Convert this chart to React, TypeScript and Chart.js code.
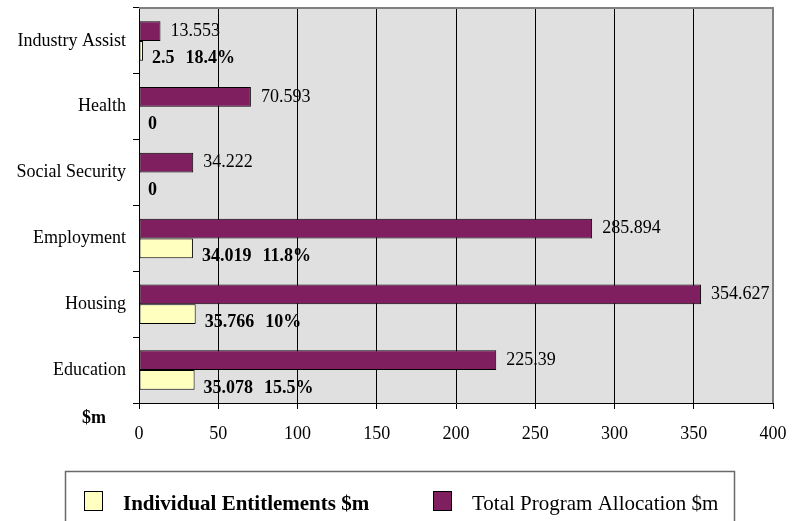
import React, { useEffect, useRef } from "react";
import { Chart, registerables } from "chart.js";

Chart.register(...registerables);

const categories = ["Industry Assist", "Health", "Social Security", "Employment", "Housing", "Education"];
const totalAllocation = [13.553, 70.593, 34.222, 285.894, 354.627, 225.39];
const individualEntitlements = [2.5, 0, 0, 34.019, 35.766, 35.078];
const entitlementShare = ["18.4%", "", "", "11.8%", "10%", "15.5%"];
const seriesNames = ["Individual Entitlements $m", "Total Program Allocation $m"];
const axisUnit = "$m";
const xMin = 0;
const xMax = 400;
const xStep = 50;

const FONT = "'Liberation Serif', 'Times New Roman', Times, serif";
const PURPLE = "#7F1F5F";
const YELLOW = "#FFFFC0";

export default function App() {
  const ref = useRef<HTMLCanvasElement>(null);

  useEffect(() => {
    const canvas = ref.current;
    if (!canvas) return;

    const decor = {
      id: "decor",
      beforeDraw(chart: any) {
        const { ctx, chartArea: a } = chart;
        ctx.save();
        ctx.fillStyle = "#E0E0E0";
        ctx.fillRect(a.left, a.top, a.right - a.left, a.bottom - a.top);
        ctx.restore();
      },
      afterDatasetsDraw(chart: any) {
        const { ctx } = chart;
        ctx.save();
        ctx.fillStyle = "#000";
        const metaT = chart.getDatasetMeta(0);
        ctx.font = `18px ${FONT}`;
        ctx.textAlign = "left";
        ctx.textBaseline = "middle";
        metaT.data.forEach((bar: any, i: number) => {
          ctx.fillText(String(totalAllocation[i]), bar.x + 10, bar.y);
        });
        const metaI = chart.getDatasetMeta(1);
        ctx.font = `bold 18px ${FONT}`;
        metaI.data.forEach((bar: any, i: number) => {
          const v = String(individualEntitlements[i]);
          const x = bar.x + 9;
          const y = bar.y + 8;
          ctx.fillText(v, x, y);
          if (entitlementShare[i]) {
            const w = ctx.measureText(v).width;
            ctx.fillText(entitlementShare[i], x + w + 11, y);
          }
        });
        ctx.restore();
      },
      afterDraw(chart: any) {
        const { ctx, chartArea: a } = chart;
        ctx.save();
        ctx.strokeStyle = "#808080";
        ctx.lineWidth = 2;
        ctx.beginPath();
        ctx.moveTo(a.left, a.top);
        ctx.lineTo(a.right, a.top);
        ctx.lineTo(a.right, a.bottom);
        ctx.stroke();
        ctx.fillStyle = "#000";
        ctx.font = `bold 18px ${FONT}`;
        ctx.textAlign = "center";
        ctx.textBaseline = "middle";
        ctx.fillText(axisUnit, 94, 418);
        ctx.strokeStyle = "#6A6A6A";
        ctx.lineWidth = 1.5;
        ctx.strokeRect(65.5, 471.5, 669, 70);
        ctx.lineWidth = 1;
        ctx.strokeStyle = "#000";
        ctx.fillStyle = YELLOW;
        ctx.fillRect(84, 491, 19, 20);
        ctx.strokeRect(84.5, 491.5, 18, 19);
        ctx.fillStyle = PURPLE;
        ctx.fillRect(433, 491, 19, 20);
        ctx.strokeRect(433.5, 491.5, 18, 19);
        ctx.fillStyle = "#000";
        ctx.textAlign = "left";
        ctx.textBaseline = "alphabetic";
        ctx.font = `bold 21px ${FONT}`;
        ctx.fillText(seriesNames[0], 123, 510);
        ctx.font = `21px ${FONT}`;
        ctx.fillText(seriesNames[1], 472, 510);
        ctx.restore();
      },
    };

    const chart = new Chart(canvas, {
      type: "bar",
      data: {
        labels: categories,
        datasets: [
          {
            label: seriesNames[1],
            data: totalAllocation,
            backgroundColor: PURPLE,
            borderColor: "#000",
            borderWidth: 1,
            borderSkipped: false,
            categoryPercentage: 0.6,
            barPercentage: 1.0,
          },
          {
            label: seriesNames[0],
            data: individualEntitlements,
            backgroundColor: YELLOW,
            borderColor: "#000",
            borderWidth: 1,
            borderSkipped: false,
            categoryPercentage: 0.6,
            barPercentage: 1.0,
          },
        ],
      },
      options: {
        indexAxis: "y",
        responsive: false,
        animation: false,
        devicePixelRatio: 1,
        layout: { padding: { top: 8, right: 28, bottom: 78, left: 0 } },
        plugins: {
          legend: { display: false },
          tooltip: { enabled: false },
        },
        scales: {
          x: {
            type: "linear",
            min: xMin,
            max: xMax,
            ticks: { stepSize: xStep, padding: 14, color: "#000", font: { family: FONT, size: 18 } },
            grid: {
              color: (c: any) => (c.tick && c.tick.value === xMax ? "#808080" : "#000"),
              tickColor: "#000",
              tickLength: 6,
              lineWidth: 1,
            },
            border: { color: "#000", width: 1 },
            afterFit: (s: any) => {
              s.height = 40;
              s.paddingLeft = 0;
              s.paddingRight = 0;
            },
          },
          y: {
            type: "category",
            offset: true,
            ticks: { padding: 7, color: "#000", font: { family: FONT, size: 18 } },
            grid: { offset: true, drawOnChartArea: false, tickLength: 6, color: "#000", tickColor: "#000" },
            border: { color: "#000", width: 1 },
            afterFit: (s: any) => {
              s.width = 139;
              s.paddingTop = 0;
              s.paddingBottom = 0;
            },
          },
        },
      },
      plugins: [decor],
    } as any);

    return () => chart.destroy();
  }, []);

  return (
    <div style={{ position: "fixed", left: 0, top: 0, width: 801, height: 521, background: "#fff" }}>
      <canvas ref={ref} width={801} height={521} style={{ display: "block", width: 801, height: 521 }} />
    </div>
  );
}
